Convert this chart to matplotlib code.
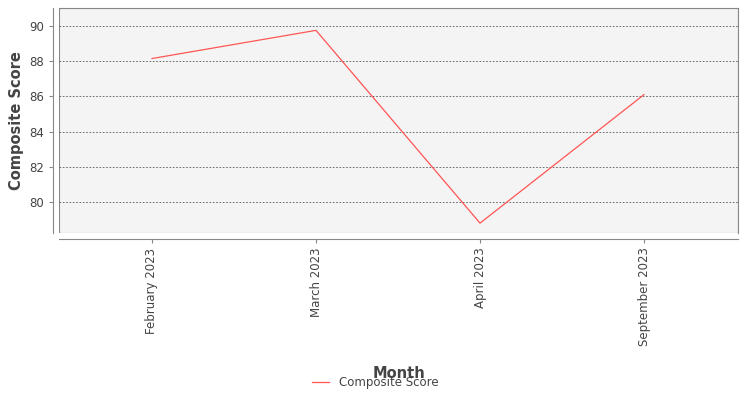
import matplotlib
matplotlib.use("Agg")
import matplotlib.pyplot as plt

months = ["February 2023", "March 2023", "April 2023", "September 2023"]
scores = [88.15, 89.75, 78.8, 86.1]
yticks = [80, 82, 84, 86, 88, 90]

fig = plt.figure(figsize=(7.5, 4), dpi=100)
ax = fig.add_axes([59/750, 1-233/400, (738-59)/750, (233-8)/400])
ax.set_facecolor("#f4f4f4")
x = list(range(len(months)))
ax.plot(x, scores, color="#ff5555", lw=0.9, label="Composite Score")
ax.set_xlim(-0.567, len(months)-1+0.573)
ax.set_ylim(78.24, 91.02)
ax.set_yticks(yticks)
ax.set_xticks(x)
ax.set_xticklabels(months)
ax.tick_params(axis="y", labelsize=8.5, labelcolor="#444444", length=3, color="#888888")
ax.tick_params(axis="x", length=3, color="#888888", labelrotation=90, labelsize=8.5, labelcolor="#444444")
ax.grid(axis="y", color="#555555", ls=(0, (2, 2)), lw=0.6)
for s in ["top", "right"]:
    ax.spines[s].set_color("#888888")
ax.spines["left"].set_position(("outward", 4))
ax.spines["bottom"].set_position(("outward", 4))
ax.spines["left"].set_color("#888888")
ax.spines["bottom"].set_color("#888888")
ax.add_patch(plt.Rectangle((0, 0), 1, 1, transform=ax.transAxes, fill=False, ec="#888888", lw=0.8))
ax.set_ylabel("Composite Score", fontsize=10.5, fontweight="semibold", color="#444444")
ax.set_xlabel("Month", fontsize=10.5, fontweight="semibold", color="#444444", labelpad=14)
fig.legend(loc="lower center", bbox_to_anchor=(0.5, 0.0), frameon=False, fontsize=8.5,
           handlelength=1.5, labelcolor="#444444")
fig.savefig("out.png", dpi=100)
